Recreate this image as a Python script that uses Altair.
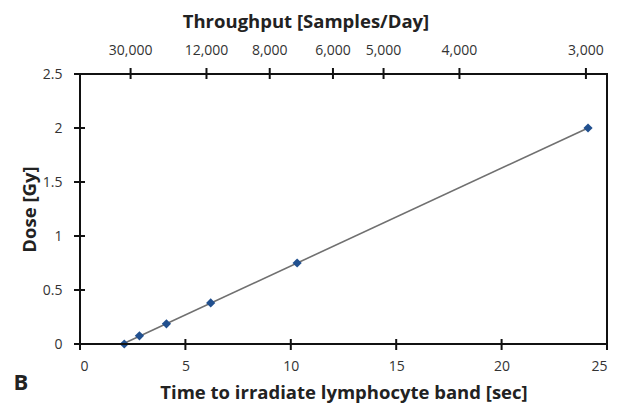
import altair as alt
import pandas as pd

# Measured points (time [sec], dose [Gy])
time_s = [2.1, 2.82, 4.1, 6.2, 10.3, 24.1]
dose_gy = [0.0, 0.076, 0.187, 0.38, 0.75, 2.0]

# Top axis: throughput labels [samples/day]; position on time axis = 72000 / throughput
throughput = [30000, 12000, 8000, 6000, 5000, 4000, 3000]
K = 72000
top_pos = [K / v for v in throughput]
top_labels = [f"{v:,}" for v in throughput]

x_ticks = [5, 10, 15, 20]
y_ticks = [0.5, 1.0, 1.5, 2.0]

pts = pd.DataFrame({"t": time_s, "d": dose_gy})
xt = pd.DataFrame({"xv": x_ticks})
yt = pd.DataFrame({"yv": y_ticks})
tt = pd.DataFrame({"tv": top_pos, "lab": top_labels})
one = pd.DataFrame({"k": [0]})

FONT = "Open Sans"
LFS = 14
TFS = 18.5
W, H = 527, 270
INK = "#111111"
xscale = alt.Scale(domain=[0, 25], nice=False, zero=False)
yscale = alt.Scale(domain=[0, 2.5], nice=False)

x_bottom = alt.X(
    "t:Q", scale=xscale,
    axis=alt.Axis(orient="bottom", values=[0, 5, 10, 15, 20, 25], tickSize=0, domain=False,
                  grid=False, labelPadding=15, title="Time to irradiate lymphocyte band [sec]",
                  titlePadding=10, labelFontSize=LFS, titleFontSize=TFS, titleFontWeight="bold",
                  labelFont=FONT, titleFont=FONT, labelColor="#333", titleColor="#222"))
y_left = alt.Y(
    "d:Q", scale=yscale,
    axis=alt.Axis(values=[0, 0.5, 1, 1.5, 2, 2.5], tickSize=0, domain=False, grid=False,
                  format="~g", labelPadding=18, title="Dose [Gy]", titlePadding=3,
                  labelFontSize=LFS, titleFontSize=TFS, titleFontWeight="bold", labelFont=FONT,
                  titleFont=FONT, labelColor="#333", titleColor="#222"))

line = alt.Chart(pts).transform_regression("t", "d").mark_line(
    color="#707070", strokeWidth=1.6).encode(x=x_bottom, y=y_left)

points = alt.Chart(pts).mark_point(
    shape="diamond", filled=True, size=85, color="#21508F", opacity=1).encode(
    x=alt.X("t:Q", scale=xscale), y=alt.Y("d:Q", scale=yscale))

xtick = alt.Chart(xt).mark_rule(color=INK, strokeWidth=2).encode(
    x=alt.X("xv:Q", scale=xscale), y=alt.value(H - 5), y2=alt.value(H + 6))
ytick = alt.Chart(yt).mark_rule(color=INK, strokeWidth=2).encode(
    y=alt.Y("yv:Q", scale=yscale), x=alt.value(-6), x2=alt.value(5))
top_tick = alt.Chart(tt).mark_rule(color=INK, strokeWidth=2).encode(
    x=alt.X("tv:Q", scale=xscale), y=alt.value(-6), y2=alt.value(5))
top_label = alt.Chart(tt).mark_text(
    font=FONT, fontSize=LFS, color="#333", align="center", baseline="middle").encode(
    x=alt.X("tv:Q", scale=xscale), y=alt.value(-23), text="lab:N")

# plot frame: left, bottom, right, top
left_border = alt.Chart(one).mark_rule(color=INK, strokeWidth=2).encode(
    x=alt.value(0), y=alt.value(-1), y2=alt.value(H + 6))
bottom_border = alt.Chart(one).mark_rule(color=INK, strokeWidth=2).encode(
    y=alt.value(H), x=alt.value(-6), x2=alt.value(W + 1))
right_border = alt.Chart(one).mark_rule(color=INK, strokeWidth=2).encode(
    x=alt.value(W), y=alt.value(-1), y2=alt.value(H + 6))
top_border = alt.Chart(one).mark_rule(color=INK, strokeWidth=2).encode(
    y=alt.value(0), x=alt.value(-6), x2=alt.value(W + 1))

top_title = alt.Chart(one).mark_text(
    text="Throughput [Samples/Day]", font=FONT, fontSize=TFS, fontWeight="bold", color="#222",
    align="center", baseline="middle").encode(x=alt.value(226), y=alt.value(-52))

label_b = alt.Chart(one).mark_text(
    text="B", font=FONT, fontSize=22, fontWeight="bold", color="#222", align="center",
    baseline="middle").encode(x=alt.value(-59), y=alt.value(309))

chart = alt.layer(
    line, points, xtick, ytick, top_tick, top_label,
    left_border, bottom_border, right_border, top_border, top_title, label_b
).properties(width=W, height=H)

chart.save("out.html", embed_options={"renderer": "svg", "actions": False})
